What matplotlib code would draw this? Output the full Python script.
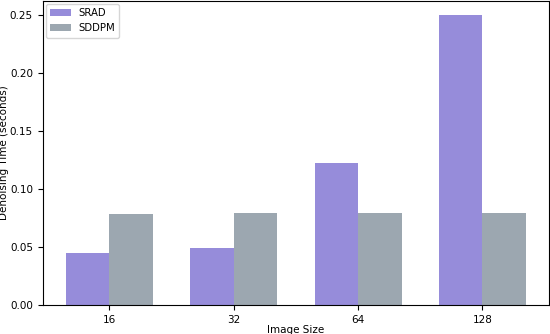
import matplotlib
matplotlib.use("Agg")
import matplotlib.pyplot as plt
import numpy as np

categories = ["16", "32", "64", "128"]
srad = [0.045, 0.049, 0.1225, 0.250]
sddpm = [0.0788, 0.0798, 0.0798, 0.0798]

plt.rcParams['font.size'] = 7.5
fig = plt.figure(figsize=(5.5, 3.34), dpi=100)
ax = fig.add_axes([42.7/550, 29/334, (549 - 42.7)/550, (305 - 0.8)/334])

x = np.arange(len(categories))
w = 0.35
ax.bar(x - w/2, srad, w, color="#968CDA", label="SRAD")
ax.bar(x + w/2, sddpm, w, color="#9CA7B0", label="SDDPM")
ax.set_xticks(x)
ax.set_xticklabels(categories)
ax.set_xlabel("Image Size", labelpad=0.5)
ax.set_ylabel("Denoising Time (seconds)", labelpad=0.4)
ax.legend(loc="upper left", fontsize=7.3, borderaxespad=0.35)

fig.savefig("out.png", dpi=100)
